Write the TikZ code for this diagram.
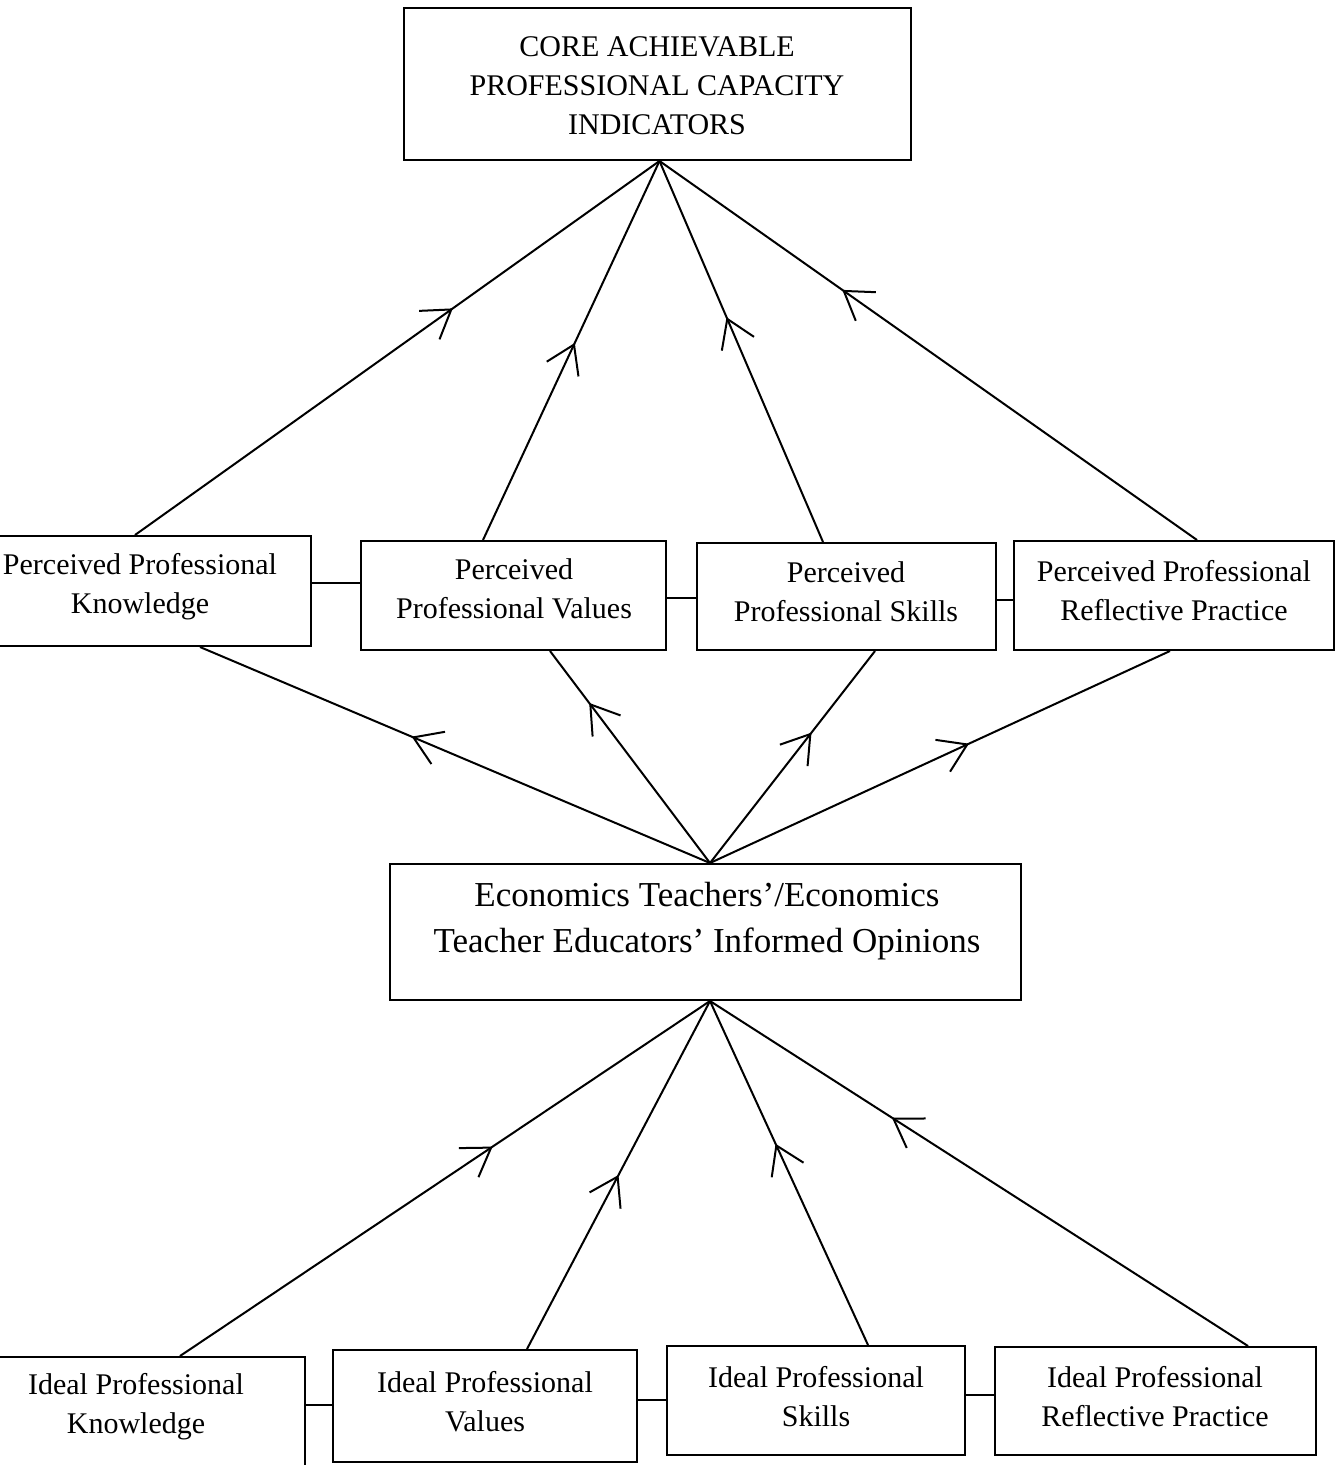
\documentclass[tikz,border=0pt]{standalone}
\usepackage{fontspec}
\setmainfont{Liberation Serif}
\usetikzlibrary{arrows.meta,decorations.markings}
\tikzset{
  box/.style={draw, line width=2pt, inner sep=0pt},
  lbl/.style={align=center, inner sep=0pt, font=\fontsize{30}{39}\selectfont},
  biglbl/.style={align=center, inner sep=0pt, font=\fontsize{35}{46}\selectfont},
  conn/.style={line width=2pt},
  midarrow/.style={conn, postaction={decorate}, decoration={markings,
     mark=at position #1 with {\arrow{Straight Barb[length=27pt,width=35pt,line width=2pt]}}}},
}
\begin{document}
\begin{tikzpicture}[x=1pt,y=-1pt]
\clip (0,0) rectangle (1343,1465);
\fill[white] (0,0) rectangle (1343,1465);
% boxes
\node[box, minimum width=507pt, minimum height=152pt] (top) at (657.5,84) {};
\node[lbl] (toptext) at (657,86) {CORE ACHIEVABLE\\PROFESSIONAL CAPACITY\\INDICATORS};

\node[box, minimum width=346pt, minimum height=110pt] (pk) at (138,591) {};
\node[lbl] (pktext) at (140,587) {Perceived Professional\\Knowledge};
\node[box, minimum width=305pt, minimum height=109pt] (pv) at (513.5,595.5) {};
\node[lbl] (pvtext) at (514,589) {Perceived\\Professional Values};
\node[box, minimum width=299pt, minimum height=107pt] (ps) at (846.5,596.5) {};
\node[lbl] (pstext) at (846,592) {Perceived\\Professional Skills};
\node[box, minimum width=320pt, minimum height=109pt] (prp) at (1174,595.5) {};
\node[lbl] (prptext) at (1174,591) {Perceived Professional\\Reflective Practice};

\node[box, minimum width=631pt, minimum height=136pt] (mid) at (705.5,932) {};
\node[biglbl] (midtext) at (707,921) {Economics Teachers'/Economics\\Teacher Educators' Informed Opinions};

\node[box, minimum width=335pt, minimum height=118pt] (ik) at (137.5,1416) {};
\node[lbl] (iktext) at (136,1407) {Ideal Professional\\Knowledge};
\node[box, minimum width=304pt, minimum height=112pt] (iv) at (485,1406) {};
\node[lbl] (ivtext) at (485,1402) {Ideal Professional\\Values};
\node[box, minimum width=298pt, minimum height=109pt] (is) at (816,1400.5) {};
\node[lbl] (istext) at (816,1397) {Ideal Professional\\Skills};
\node[box, minimum width=321pt, minimum height=108pt] (irp) at (1155.5,1401) {};
\node[lbl] (irptext) at (1155,1397) {Ideal Professional\\Reflective Practice};

% horizontal links
\draw[conn] ([yshift=8pt]pk.east) -- ([yshift=12.5pt]pv.west);
\draw[conn] ([yshift=-2.5pt]pv.east) -- ([yshift=-1.5pt]ps.west);
\draw[conn] ([yshift=-3.5pt]ps.east) -- ([yshift=-4.5pt]prp.west);
\draw[conn] ([yshift=11pt]ik.east) -- ([yshift=1pt]iv.west);
\draw[conn] ([yshift=6pt]iv.east) -- ([yshift=0.5pt]is.west);
\draw[conn] ([yshift=5.5pt]is.east) -- ([yshift=6pt]irp.west);

% perceived -> top
\draw[midarrow=0.606] ([xshift=-3pt]pk.north) -- ([xshift=2pt]top.south);
\draw[midarrow=0.52] ([xshift=-30.5pt]pv.north) -- ([xshift=2pt]top.south);
\draw[midarrow=0.59] ([xshift=-23.5pt]ps.north) -- ([xshift=2pt]top.south);
\draw[midarrow=0.66] ([xshift=23pt]prp.north) -- ([xshift=2pt]top.south);

% middle -> perceived
\draw[midarrow=0.585] ([xshift=4.5pt]mid.north) -- ([xshift=62pt]pk.south);
\draw[midarrow=0.755] ([xshift=4.5pt]mid.north) -- ([xshift=36.5pt]pv.south);
\draw[midarrow=0.615] ([xshift=4.5pt]mid.north) -- ([xshift=28.5pt]ps.south);
\draw[midarrow=0.563] ([xshift=4.5pt]mid.north) -- ([xshift=-4pt]prp.south);

% ideal -> middle
\draw[midarrow=0.59] ([xshift=42.5pt]ik.north) -- ([xshift=4.5pt]mid.south);
\draw[midarrow=0.5] ([xshift=42pt]iv.north) -- ([xshift=4.5pt]mid.south);
\draw[midarrow=0.585] ([xshift=52pt]is.north) -- ([xshift=4.5pt]mid.south);
\draw[midarrow=0.662] ([xshift=92.5pt]irp.north) -- ([xshift=4.5pt]mid.south);
\end{tikzpicture}
\end{document}
